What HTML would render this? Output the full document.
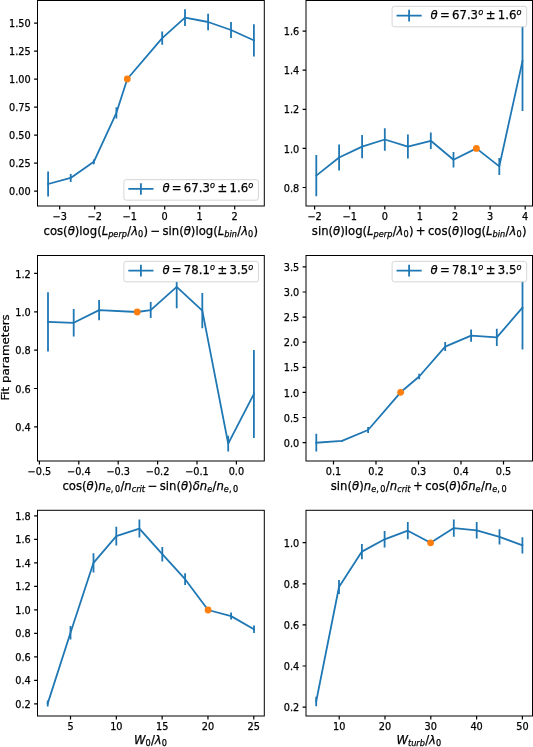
<!DOCTYPE html>
<html><head><meta charset="utf-8"><title>Fit parameters</title>
<style>
html,body{margin:0;padding:0;background:#fff;}
body{width:533px;height:747px;overflow:hidden;}
svg{display:block;font-family:"DejaVu Sans","Liberation Sans",sans-serif;fill:#000;will-change:transform;}
text{stroke:#000;stroke-width:0.25px;}
</style></head><body>
<svg width="533" height="747" viewBox="0 0 533 747">
<rect width="533" height="747" fill="#fff"/>
<clipPath id="c37_0"><rect x="37.5" y="0.5" width="226.8" height="205.5"/></clipPath>
<path d="M59.7 206v3.4M94.7 206v3.4M129.7 206v3.4M164.7 206v3.4M199.7 206v3.4M234.7 206v3.4M37.5 191.1h-3.4M37.5 163.1h-3.4M37.5 135.1h-3.4M37.5 107.1h-3.4M37.5 79.1h-3.4M37.5 51.1h-3.4M37.5 23.1h-3.4" stroke="#000" stroke-width="1.2" fill="none"/>
<g font-size="9.72" text-anchor="middle">
<text x="59.7" y="220">−3</text>
<text x="94.7" y="220">−2</text>
<text x="129.7" y="220">−1</text>
<text x="164.7" y="220">0</text>
<text x="199.7" y="220">1</text>
<text x="234.7" y="220">2</text>
</g>
<g font-size="9.72" text-anchor="end">
<text x="30.69" y="195.2">0.00</text>
<text x="30.69" y="167.2">0.25</text>
<text x="30.69" y="139.2">0.50</text>
<text x="30.69" y="111.2">0.75</text>
<text x="30.69" y="83.2">1.00</text>
<text x="30.69" y="55.2">1.25</text>
<text x="30.69" y="27.2">1.50</text>
</g>
<g clip-path="url(#c37_0)">
<path d="M48.1 171.6V196.4M70.7 173.9V181.9M93.8 159.4V164.2M116.4 107.2V118.4M162.2 31.5V44.7M185 9.2V26M208.1 13.7V30.3M231 22V38M253.9 24.3V56.5" stroke="#1f77b4" stroke-width="1.8" fill="none"/>
<path d="M48.1 184L70.7 177.9L93.8 161.8L116.4 112.8L127.3 79L162.2 38.1L185 17.6L208.1 22L231 30L253.9 40.4" stroke="#1f77b4" stroke-width="1.8" fill="none" stroke-linejoin="round" stroke-linecap="square"/>
<circle cx="127.3" cy="79" r="3.4" fill="#ff7f0e"/>
</g>
<rect x="37.5" y="0.5" width="226.8" height="205.5" fill="none" stroke="#000" stroke-width="1"/>
<text font-size="11.67"><tspan x="43.47 49.88 57.02 63.1" y="235">cos(</tspan><tspan x="67.65" y="235" font-style="italic">θ</tspan><tspan x="74.79 79.34 82.58 89.72 97.13" y="235">)log(</tspan><tspan x="101.68" y="235" font-style="italic">L</tspan><tspan x="108.18 113.36 118.39 121.74" y="236.91" font-style="italic" font-size="8.17">perp</tspan><tspan x="127.25" y="235">/</tspan><tspan x="131.18" y="235" font-style="italic">λ</tspan><tspan x="138.08" y="236.91" font-size="8.17">0</tspan><tspan x="143.6 150.42 162.47 168.55 171.79 179.18" y="235">)−sin(</tspan><tspan x="183.73" y="235" font-style="italic">θ</tspan><tspan x="190.87 195.42 198.67 205.8 213.21" y="235">)log(</tspan><tspan x="217.76" y="235" font-style="italic">L</tspan><tspan x="224.26 229.44 231.71" y="236.91" font-style="italic" font-size="8.17">bin</tspan><tspan x="237.21" y="235">/</tspan><tspan x="241.14" y="235" font-style="italic">λ</tspan><tspan x="248.04" y="236.91" font-size="8.17">0</tspan><tspan x="253.56" y="235">)</tspan></text>
<rect x="123.88" y="179.67" width="134.59" height="20.5" rx="2.33" fill="#fff" stroke="#ccc" stroke-width="0.8"/>
<path d="M128.34 188.97h25.13M140.91 183.13v11.67" stroke="#1f77b4" stroke-width="1.8" fill="none"/>
<text font-size="11.67"><tspan x="162.41" y="192.37" font-style="italic">θ</tspan><tspan x="171.82 183.87 191.29 198.72 202.42" y="192.37">=67.3</tspan><tspan x="209.96" y="187.9" font-style="italic" font-size="8.17">o</tspan><tspan x="217.55 229.6 237.02 240.73" y="192.37">±1.6</tspan><tspan x="248.26" y="187.9" font-style="italic" font-size="8.17">o</tspan></text>
<clipPath id="c306_0"><rect x="306" y="0.5" width="226.5" height="205.5"/></clipPath>
<path d="M314.6 206v3.4M349.7 206v3.4M384.8 206v3.4M419.9 206v3.4M455 206v3.4M490.1 206v3.4M525.2 206v3.4M306 187.5h-3.4M306 148.4h-3.4M306 109.3h-3.4M306 70.2h-3.4M306 31.1h-3.4" stroke="#000" stroke-width="1.2" fill="none"/>
<g font-size="9.72" text-anchor="middle">
<text x="314.6" y="220">−2</text>
<text x="349.7" y="220">−1</text>
<text x="384.8" y="220">0</text>
<text x="419.9" y="220">1</text>
<text x="455" y="220">2</text>
<text x="490.1" y="220">3</text>
<text x="525.2" y="220">4</text>
</g>
<g font-size="9.72" text-anchor="end">
<text x="299.19" y="191.6">0.8</text>
<text x="299.19" y="152.5">1.0</text>
<text x="299.19" y="113.4">1.2</text>
<text x="299.19" y="74.3">1.4</text>
<text x="299.19" y="35.2">1.6</text>
</g>
<g clip-path="url(#c306_0)">
<path d="M316.3 155V196.2M339.1 144.5V170.5M362.1 134.9V158.3M384.8 128.3V150.7M407.9 134.6V158.6M430.8 132.5V149.1M453.5 152V167.6M499.3 157.9V174.9M522.5 11V111" stroke="#1f77b4" stroke-width="1.8" fill="none"/>
<path d="M316.3 175.6L339.1 157.5L362.1 146.6L384.8 139.5L407.9 146.6L430.8 140.8L453.5 159.8L476.4 148.4L499.3 166.4L522.5 61" stroke="#1f77b4" stroke-width="1.8" fill="none" stroke-linejoin="round" stroke-linecap="square"/>
<circle cx="476.4" cy="148.4" r="3.4" fill="#ff7f0e"/>
</g>
<rect x="306" y="0.5" width="226.5" height="205.5" fill="none" stroke="#000" stroke-width="1"/>
<text font-size="11.67"><tspan x="311.82 317.9 321.14 328.53" y="235">sin(</tspan><tspan x="333.08" y="235" font-style="italic">θ</tspan><tspan x="340.22 344.77 348.02 355.15 362.56" y="235">)log(</tspan><tspan x="367.11" y="235" font-style="italic">L</tspan><tspan x="373.61 378.79 383.82 387.18" y="236.91" font-style="italic" font-size="8.17">perp</tspan><tspan x="392.68" y="235">/</tspan><tspan x="396.61" y="235" font-style="italic">λ</tspan><tspan x="403.51" y="236.91" font-size="8.17">0</tspan><tspan x="409.03 415.85 427.9 434.32 441.45 447.53" y="235">)+cos(</tspan><tspan x="452.08" y="235" font-style="italic">θ</tspan><tspan x="459.22 463.77 467.02 474.15 481.56" y="235">)log(</tspan><tspan x="486.11" y="235" font-style="italic">L</tspan><tspan x="492.61 497.79 500.06" y="236.91" font-style="italic" font-size="8.17">bin</tspan><tspan x="505.56" y="235">/</tspan><tspan x="509.49" y="235" font-style="italic">λ</tspan><tspan x="516.39" y="236.91" font-size="8.17">0</tspan><tspan x="521.91" y="235">)</tspan></text>
<rect x="392.08" y="6.33" width="134.59" height="20.5" rx="2.33" fill="#fff" stroke="#ccc" stroke-width="0.8"/>
<path d="M396.54 15.63h25.13M409.11 9.8v11.67" stroke="#1f77b4" stroke-width="1.8" fill="none"/>
<text font-size="11.67"><tspan x="430.61" y="19.03" font-style="italic">θ</tspan><tspan x="440.02 452.07 459.49 466.92 470.62" y="19.03">=67.3</tspan><tspan x="478.16" y="14.57" font-style="italic" font-size="8.17">o</tspan><tspan x="485.75 497.8 505.22 508.93" y="19.03">±1.6</tspan><tspan x="516.46" y="14.57" font-style="italic" font-size="8.17">o</tspan></text>
<clipPath id="c37_255"><rect x="37.5" y="255.5" width="226.8" height="205.5"/></clipPath>
<path d="M39.4 461v3.4M78.8 461v3.4M118.2 461v3.4M157.6 461v3.4M197 461v3.4M236.4 461v3.4M37.5 426.88h-3.4M37.5 388.52h-3.4M37.5 350.16h-3.4M37.5 311.8h-3.4M37.5 273.44h-3.4" stroke="#000" stroke-width="1.2" fill="none"/>
<g font-size="9.72" text-anchor="middle">
<text x="39.4" y="475">−0.5</text>
<text x="78.8" y="475">−0.4</text>
<text x="118.2" y="475">−0.3</text>
<text x="157.6" y="475">−0.2</text>
<text x="197" y="475">−0.1</text>
<text x="236.4" y="475">0.0</text>
</g>
<g font-size="9.72" text-anchor="end">
<text x="30.69" y="430.98">0.4</text>
<text x="30.69" y="392.62">0.6</text>
<text x="30.69" y="354.26">0.8</text>
<text x="30.69" y="315.9">1.0</text>
<text x="30.69" y="277.54">1.2</text>
</g>
<g clip-path="url(#c37_255)">
<path d="M48 292.3V351.5M73.7 309V336.6M99.1 299.9V320.3M150.7 302.1V318.1M176.7 265.6V308.2M202.3 293V328.2M228.2 435.8V451.4M253.9 349.9V438.1" stroke="#1f77b4" stroke-width="1.8" fill="none"/>
<path d="M48 321.9L73.7 322.8L99.1 310.1L137.2 312L150.7 310.1L176.7 286.9L202.3 310.6L228.2 443.6L253.9 394" stroke="#1f77b4" stroke-width="1.8" fill="none" stroke-linejoin="round" stroke-linecap="square"/>
<circle cx="137.2" cy="312" r="3.4" fill="#ff7f0e"/>
</g>
<rect x="37.5" y="255.5" width="226.8" height="205.5" fill="none" stroke="#000" stroke-width="1"/>
<text font-size="11.67"><tspan x="62.43 68.84 75.98 82.06" y="490">cos(</tspan><tspan x="86.61" y="490" font-style="italic">θ</tspan><tspan x="93.75" y="490">)</tspan><tspan x="98.3" y="490" font-style="italic">n</tspan><tspan x="105.69" y="491.91" font-style="italic" font-size="8.17">e</tspan><tspan x="110.72 114.9" y="491.91" font-size="8.17">,0</tspan><tspan x="120.42" y="490">/</tspan><tspan x="124.35" y="490" font-style="italic">n</tspan><tspan x="131.74 136.23 139.59 141.86" y="491.91" font-style="italic" font-size="8.17">crit</tspan><tspan x="147.66 159.7 165.78 169.02 176.42" y="490">−sin(</tspan><tspan x="180.97" y="490" font-style="italic">θ</tspan><tspan x="188.11" y="490">)</tspan><tspan x="192.66 199.8" y="490" font-style="italic">δn</tspan><tspan x="207.19" y="491.91" font-style="italic" font-size="8.17">e</tspan><tspan x="212.53" y="490">/</tspan><tspan x="216.46" y="490" font-style="italic">n</tspan><tspan x="223.86" y="491.91" font-style="italic" font-size="8.17">e</tspan><tspan x="228.88 233.07" y="491.91" font-size="8.17">,0</tspan></text>
<text font-size="11.85" text-anchor="middle" transform="translate(9.2 357.45) rotate(-90) scale(1 0.93)">Fit parameters</text>
<rect x="123.88" y="261.33" width="134.59" height="20.5" rx="2.33" fill="#fff" stroke="#ccc" stroke-width="0.8"/>
<path d="M128.34 270.63h25.13M140.91 264.8v11.67" stroke="#1f77b4" stroke-width="1.8" fill="none"/>
<text font-size="11.67"><tspan x="162.41" y="274.03" font-style="italic">θ</tspan><tspan x="171.82 183.87 191.29 198.72 202.42" y="274.03">=78.1</tspan><tspan x="209.96" y="269.57" font-style="italic" font-size="8.17">o</tspan><tspan x="217.55 229.6 237.02 240.73" y="274.03">±3.5</tspan><tspan x="248.26" y="269.57" font-style="italic" font-size="8.17">o</tspan></text>
<clipPath id="c306_255"><rect x="306" y="255.5" width="226.5" height="205.5"/></clipPath>
<path d="M333.5 461v3.4M376 461v3.4M418.5 461v3.4M461 461v3.4M503.5 461v3.4M306 442.6h-3.4M306 417.5h-3.4M306 392.4h-3.4M306 367.3h-3.4M306 342.2h-3.4M306 317.1h-3.4M306 292h-3.4M306 266.9h-3.4" stroke="#000" stroke-width="1.2" fill="none"/>
<g font-size="9.72" text-anchor="middle">
<text x="333.5" y="475">0.1</text>
<text x="376" y="475">0.2</text>
<text x="418.5" y="475">0.3</text>
<text x="461" y="475">0.4</text>
<text x="503.5" y="475">0.5</text>
</g>
<g font-size="9.72" text-anchor="end">
<text x="299.19" y="446.7">0.0</text>
<text x="299.19" y="421.6">0.5</text>
<text x="299.19" y="396.5">1.0</text>
<text x="299.19" y="371.4">1.5</text>
<text x="299.19" y="346.3">2.0</text>
<text x="299.19" y="321.2">2.5</text>
<text x="299.19" y="296.1">3.0</text>
<text x="299.19" y="271">3.5</text>
</g>
<g clip-path="url(#c306_255)">
<path d="M316.3 433.8V451.6M342 440.1V441.7M368.1 426.9V433.1M419.2 373.8V379.2M445.2 342.1V351.1M471.1 329.6V341.8M496.8 328.8V346M522.5 265.8V349.4" stroke="#1f77b4" stroke-width="1.8" fill="none"/>
<path d="M316.3 442.7L342 440.9L368.1 430L400.6 392.3L419.2 376.5L445.2 346.6L471.1 335.7L496.8 337.4L522.5 307.6" stroke="#1f77b4" stroke-width="1.8" fill="none" stroke-linejoin="round" stroke-linecap="square"/>
<circle cx="400.6" cy="392.3" r="3.4" fill="#ff7f0e"/>
</g>
<rect x="306" y="255.5" width="226.5" height="205.5" fill="none" stroke="#000" stroke-width="1"/>
<text font-size="11.67"><tspan x="330.78 336.86 340.1 347.49" y="490">sin(</tspan><tspan x="352.04" y="490" font-style="italic">θ</tspan><tspan x="359.18" y="490">)</tspan><tspan x="363.73" y="490" font-style="italic">n</tspan><tspan x="371.13" y="491.91" font-style="italic" font-size="8.17">e</tspan><tspan x="376.15 380.34" y="491.91" font-size="8.17">,0</tspan><tspan x="385.85" y="490">/</tspan><tspan x="389.78" y="490" font-style="italic">n</tspan><tspan x="397.18 401.67 405.03 407.29" y="491.91" font-style="italic" font-size="8.17">crit</tspan><tspan x="413.09 425.14 431.55 438.69 444.77" y="490">+cos(</tspan><tspan x="449.32" y="490" font-style="italic">θ</tspan><tspan x="456.46" y="490">)</tspan><tspan x="461.01 468.15" y="490" font-style="italic">δn</tspan><tspan x="475.54" y="491.91" font-style="italic" font-size="8.17">e</tspan><tspan x="480.88" y="490">/</tspan><tspan x="484.81" y="490" font-style="italic">n</tspan><tspan x="492.21" y="491.91" font-style="italic" font-size="8.17">e</tspan><tspan x="497.23 501.42" y="491.91" font-size="8.17">,0</tspan></text>
<rect x="392.08" y="261.33" width="134.59" height="20.5" rx="2.33" fill="#fff" stroke="#ccc" stroke-width="0.8"/>
<path d="M396.54 270.63h25.13M409.11 264.8v11.67" stroke="#1f77b4" stroke-width="1.8" fill="none"/>
<text font-size="11.67"><tspan x="430.61" y="274.03" font-style="italic">θ</tspan><tspan x="440.02 452.07 459.49 466.92 470.62" y="274.03">=78.1</tspan><tspan x="478.16" y="269.57" font-style="italic" font-size="8.17">o</tspan><tspan x="485.75 497.8 505.22 508.93" y="274.03">±3.5</tspan><tspan x="516.46" y="269.57" font-style="italic" font-size="8.17">o</tspan></text>
<clipPath id="c37_510"><rect x="37.5" y="510.3" width="226.8" height="205.7"/></clipPath>
<path d="M70.5 716v3.4M116.32 716v3.4M162.15 716v3.4M207.97 716v3.4M253.8 716v3.4M37.5 703.8h-3.4M37.5 680.3h-3.4M37.5 656.8h-3.4M37.5 633.3h-3.4M37.5 609.8h-3.4M37.5 586.3h-3.4M37.5 562.8h-3.4M37.5 539.3h-3.4M37.5 515.8h-3.4" stroke="#000" stroke-width="1.2" fill="none"/>
<g font-size="9.72" text-anchor="middle">
<text x="70.5" y="730">5</text>
<text x="116.32" y="730">10</text>
<text x="162.15" y="730">15</text>
<text x="207.97" y="730">20</text>
<text x="253.8" y="730">25</text>
</g>
<g font-size="9.72" text-anchor="end">
<text x="30.69" y="707.9">0.2</text>
<text x="30.69" y="684.4">0.4</text>
<text x="30.69" y="660.9">0.6</text>
<text x="30.69" y="637.4">0.8</text>
<text x="30.69" y="613.9">1.0</text>
<text x="30.69" y="590.4">1.2</text>
<text x="30.69" y="566.9">1.4</text>
<text x="30.69" y="543.4">1.6</text>
<text x="30.69" y="519.9">1.8</text>
</g>
<g clip-path="url(#c37_510)">
<path d="M47.7 700.6V706.4M70.5 626V639.6M93.5 553.2V572.4M116.3 526.8V545.6M139.4 519.6V537.6M162.3 546.9V561.5M185.1 573.3V585.1M231.1 612.6V619.6M254 625.5V633.1" stroke="#1f77b4" stroke-width="1.8" fill="none"/>
<path d="M47.7 703.5L70.5 632.8L93.5 562.8L116.3 536.2L139.4 528.6L162.3 554.2L185.1 579.2L208.1 610L231.1 616.1L254 629.3" stroke="#1f77b4" stroke-width="1.8" fill="none" stroke-linejoin="round" stroke-linecap="square"/>
<circle cx="208.1" cy="610" r="3.4" fill="#ff7f0e"/>
</g>
<rect x="37.5" y="510.3" width="226.8" height="205.7" fill="none" stroke="#000" stroke-width="1"/>
<text font-size="11.67"><tspan x="133.89" y="744" font-style="italic">W</tspan><tspan x="145.42" y="745.91" font-size="8.17">0</tspan><tspan x="150.94" y="744">/</tspan><tspan x="154.87" y="744" font-style="italic">λ</tspan><tspan x="161.77" y="745.91" font-size="8.17">0</tspan></text>
<clipPath id="c306_510"><rect x="306" y="510.3" width="226.5" height="205.7"/></clipPath>
<path d="M339.2 716v3.4M385 716v3.4M430.8 716v3.4M476.6 716v3.4M522.4 716v3.4M306 707.1h-3.4M306 666h-3.4M306 624.9h-3.4M306 583.8h-3.4M306 542.7h-3.4" stroke="#000" stroke-width="1.2" fill="none"/>
<g font-size="9.72" text-anchor="middle">
<text x="339.2" y="730">10</text>
<text x="385" y="730">20</text>
<text x="430.8" y="730">30</text>
<text x="476.6" y="730">40</text>
<text x="522.4" y="730">50</text>
</g>
<g font-size="9.72" text-anchor="end">
<text x="299.19" y="711.2">0.2</text>
<text x="299.19" y="670.1">0.4</text>
<text x="299.19" y="629">0.6</text>
<text x="299.19" y="587.9">0.8</text>
<text x="299.19" y="546.8">1.0</text>
</g>
<g clip-path="url(#c306_510)">
<path d="M316.2 696.7V706.3M339 580V594M361.9 543.9V559.3M384.6 531.1V547.5M407.8 522.1V539.3M453.8 519.5V536.7M476.7 522V538.6M499.5 529.2V544.4M522.4 537.2V553.6" stroke="#1f77b4" stroke-width="1.8" fill="none"/>
<path d="M316.2 701.5L339 587L361.9 551.6L384.6 539.3L407.8 530.7L430.6 542.8L453.8 528.1L476.7 530.3L499.5 536.8L522.4 545.4" stroke="#1f77b4" stroke-width="1.8" fill="none" stroke-linejoin="round" stroke-linecap="square"/>
<circle cx="430.6" cy="542.8" r="3.4" fill="#ff7f0e"/>
</g>
<rect x="306" y="510.3" width="226.5" height="205.7" fill="none" stroke="#000" stroke-width="1"/>
<text font-size="11.67"><tspan x="396.4" y="744" font-style="italic">W</tspan><tspan x="407.94 411.14 416.32 419.67" y="745.91" font-style="italic" font-size="8.17">turb</tspan><tspan x="425.18" y="744">/</tspan><tspan x="429.11" y="744" font-style="italic">λ</tspan><tspan x="436.01" y="745.91" font-size="8.17">0</tspan></text>
</svg>
</body></html>
